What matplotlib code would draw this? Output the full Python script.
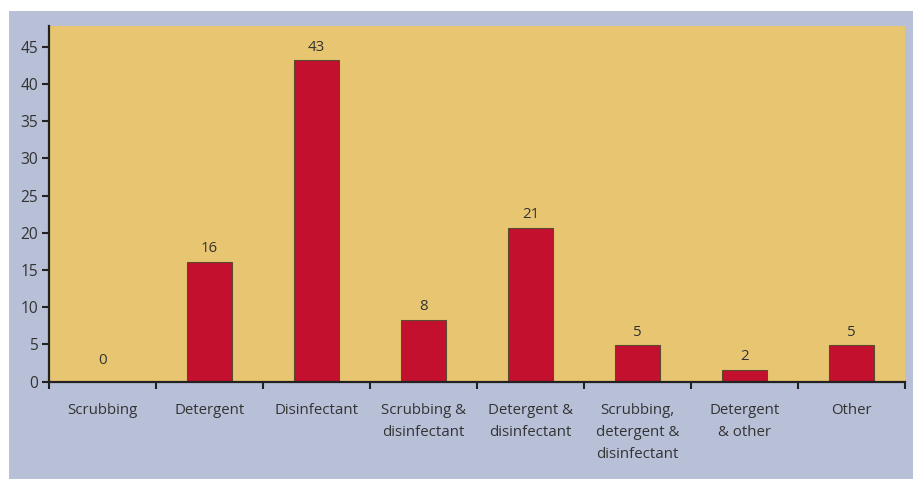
import numpy as np
import matplotlib
matplotlib.use("Agg")
import matplotlib.pyplot as plt
from matplotlib.patches import Rectangle

# -----------------------------------------------------------------------------
# Data
categories = ["Scrubbing", "Detergent", "Disinfectant", "Scrubbing &\ndisinfectant",
              "Detergent &\ndisinfectant", "Scrubbing,\ndetergent &\ndisinfectant",
              "Detergent\n& other", "Other"]
heights = [0, 16.1, 43.2, 8.3, 20.7, 4.9, 1.6, 4.9]
value_labels = ["0", "16", "43", "8", "21", "5", "2", "5"]

# -----------------------------------------------------------------------------
# Colours
bg_blue = "#b8c0d8"
plot_yellow = "#e8c671"
bar_red = "#c3102f"
text_col = "#333333"

plt.rcParams["font.family"] = ["Open Sans", "DejaVu Sans"]

fig = plt.figure(figsize=(9.18, 4.79), dpi=100)
fig.patch.set_facecolor("white")
fig.add_artist(Rectangle((9 / 918, 0), (913 - 9) / 918, (479 - 11) / 479,
                         transform=fig.transFigure, facecolor=bg_blue,
                         edgecolor="none", zorder=0))

ax = fig.add_axes([49 / 918, (479 - 381.7) / 479, (905 - 49) / 918, (381.7 - 26) / 479])
ax.set_facecolor(plot_yellow)

x = np.arange(len(categories))
ax.bar(x, heights, width=0.42, color=bar_red, edgecolor="#5a4a30", linewidth=0.8, zorder=2)

for xi, h, lab in zip(x, heights, value_labels):
    off = 10 if h == 0 else 4
    ax.annotate(lab, (xi, h), xytext=(0, off), textcoords="offset points",
                ha="center", va="bottom", fontsize=10.8, color=text_col)

ax.set_xlim(-0.5, len(categories) - 0.5)
ax.set_ylim(0, 47.8)
ax.set_yticks(np.arange(0, 50, 5))

ax.set_xticks(x)
ax.set_xticklabels(categories, fontsize=10.8, color=text_col, linespacing=1.65, va="top")
ax.tick_params(axis="x", which="major", length=0, pad=15)
ax.set_xticks(np.arange(-0.5, len(categories), 1), minor=True)
ax.tick_params(axis="x", which="minor", length=5, width=1.5, color="#222222", direction="out")
ax.tick_params(axis="y", length=5, width=1.5, color="#222222", labelsize=11.2,
               labelcolor=text_col, pad=3)

for s in ["top", "right"]:
    ax.spines[s].set_visible(False)
for s in ["left", "bottom"]:
    ax.spines[s].set_linewidth(1.6)
    ax.spines[s].set_color("#222222")

fig.savefig("out.png", dpi=100, facecolor=fig.get_facecolor())
